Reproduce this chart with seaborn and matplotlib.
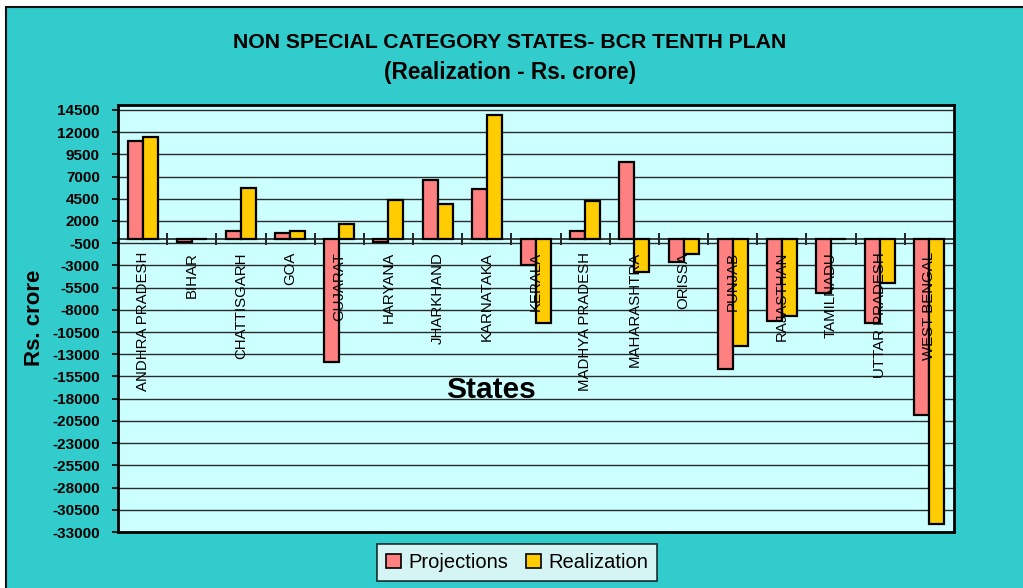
import numpy as np
import pandas as pd
import matplotlib
matplotlib.use("Agg")
import matplotlib.pyplot as plt
from matplotlib.patches import Rectangle
import seaborn as sns

# Tenth plan balance from current revenues, non special category states (Rs. crore)
states = ["ANDHRA PRADESH", "BIHAR", "CHATTISGARH", "GOA", "GUJARAT", "HARYANA",
          "JHARKHAND", "KARNATAKA", "KERALA", "MADHYA PRADESH", "MAHARASHTRA",
          "ORISSA", "PUNJAB", "RAJASTHAN", "TAMILNADU", "UTTAR PRADESH", "WEST BENGAL"]
projections = [11000, -400, 850, 600, -13850, -400, 6650, 5550, -3000, 850, 8650,
               -2600, -14700, -9300, -6150, -9500, -19850]
realization = [11400, 0, 5750, 850, 1700, 4400, 3950, 13900, -9500, 4200, -3700,
               -1700, -12050, -8650, 0, -5000, -32050]
series_names = ["Projections", "Realization"]
y_ticks = list(range(-33000, 14501, 2500))

df = pd.DataFrame({
    "State": states * 2,
    "Series": [series_names[0]] * len(states) + [series_names[1]] * len(states),
    "Value": projections + realization,
})

sns.set_theme(style="white")
plt.rcParams["font.family"] = ["Liberation Sans", "DejaVu Sans"]
plt.rcParams["text.color"] = "black"
plt.rcParams["axes.labelcolor"] = "black"
plt.rcParams["xtick.color"] = "black"
plt.rcParams["ytick.color"] = "black"

TEAL = "#33CCCC"
PLOT_BG = "#CCFFFF"
palette = {"Projections": "#FF8080", "Realization": "#FFCC00"}

fig = plt.figure(figsize=(10.23, 5.88), dpi=100)
fig.patch.set_facecolor("white")
# chart area background with its dark outline
fig.patches.append(Rectangle((6 / 1023, -0.05), 1.1, 1.05 - 7 / 588,
                             transform=fig.transFigure, facecolor=TEAL,
                             edgecolor="#111111", linewidth=1.5, zorder=-10))

ax = fig.add_axes([118 / 1023, 1 - 532 / 588, (954 - 118) / 1023, (532 - 105) / 588])
ax.set_facecolor(PLOT_BG)

sns.barplot(data=df, x="State", y="Value", hue="Series", palette=palette,
            order=states, hue_order=series_names, width=0.61, gap=0,
            edgecolor="black", linewidth=1.6, saturation=1, ax=ax, legend=False,
            errorbar=None)

ymin, ymax = -33000, 15050
ax.set_ylim(ymin, ymax)
ax.set_xlim(-0.5, len(states) - 0.5)

ax.set_yticks(y_ticks)
ax.set_yticklabels([str(v) for v in y_ticks], fontsize=11, fontweight="bold",
                   color="black")
ax.tick_params(axis="y", direction="out", length=4, width=1.2, color="black",
               pad=9, left=True)
ax.tick_params(axis="x", bottom=False, labelbottom=False)
ax.set_axisbelow(True)
ax.yaxis.grid(True, color="#2a2a2a", linewidth=1.0)
ax.xaxis.grid(False)
ax.set_xlabel("")
ax.set_ylabel("")
for sp in ax.spines.values():
    sp.set_visible(True)
    sp.set_color("black")
    sp.set_linewidth(2.0)

# category axis crossing at zero, with tick marks between the states
zero_frac = (0 - ymin) / (ymax - ymin)
cat_axis = ax.secondary_xaxis(zero_frac)
cat_axis.set_xticks(np.arange(0.5, len(states) - 1, 1.0))
cat_axis.set_xticklabels([])
cat_axis.tick_params(direction="out", length=4.5, width=1.2, color="black",
                     labelbottom=False, labeltop=False, bottom=True)
cat_axis.spines["bottom"].set_linewidth(1.2)
cat_axis.spines["bottom"].set_color("black")

# state names written vertically just under the zero line
for i, name in enumerate(states):
    ax.text(i, -1500, name, rotation=90, ha="center", va="top",
            fontsize=10.8, color="black", zorder=6)

fig.text(510 / 1023, 1 - 42 / 588, "NON SPECIAL CATEGORY STATES- BCR TENTH PLAN",
         ha="center", va="center", fontsize=15.3, fontweight="bold")
fig.text(510 / 1023, 1 - 72 / 588, "(Realization - Rs. crore)",
         ha="center", va="center", fontsize=16.3, fontweight="bold")
fig.text(35 / 1023, 1 - 318 / 588, "Rs. crore", rotation=90, ha="center",
         va="center", fontsize=16, fontweight="bold")
fig.text(491 / 1023, 1 - 390 / 588, "States", ha="center", va="center",
         fontsize=21.5, fontweight="bold", zorder=10)

handles = [Rectangle((0, 0), 1, 1, facecolor=palette[s], edgecolor="black",
                     linewidth=1.2) for s in series_names]
leg = fig.legend(handles, series_names, loc="center",
                 bbox_to_anchor=(517 / 1023, 1 - 562.5 / 588), ncol=2,
                 fontsize=14.5, frameon=True, fancybox=False, shadow=False,
                 handlelength=0.75, handleheight=0.75, handletextpad=0.35,
                 columnspacing=0.9, borderpad=0.45, borderaxespad=0)
leg.get_frame().set_facecolor("white")
leg.get_frame().set_edgecolor("black")
leg.get_frame().set_linewidth(1.2)

fig.savefig("out.png", dpi=100, facecolor=fig.get_facecolor())
